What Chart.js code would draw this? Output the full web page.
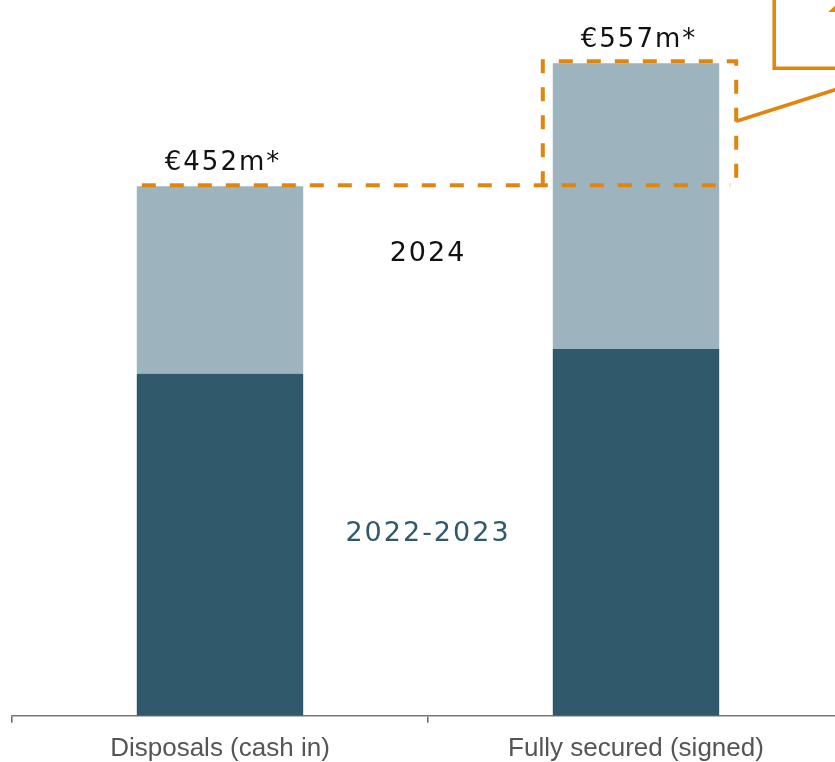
<!DOCTYPE html>
<html>
<head>
<meta charset="utf-8">
<script src="https://cdn.jsdelivr.net/npm/chart.js@4.4.0/dist/chart.umd.min.js"></script>
<style>
  html, body { margin: 0; padding: 0; overflow: hidden; background: #fff; }
  #wrap { width: 835px; height: 762px; overflow: hidden; }
</style>
</head>
<body>
<div id="wrap"><canvas id="chart" width="1260" height="776"></canvas></div>
<script>
// categories (third one is cut off in the picture)
const categories = ['Disposals (cash in)', 'Fully secured (signed)', ''];
const seriesNames = ['2022-2023', '2024'];
const values2022 = [292, 313, null];
const values2024 = [160, 244, null];
const totalLabels = ['€452m*', '€557m*', ''];

const dark = '#305a6b';
const light = '#9db3bd';
const orange = '#e0860f';

// totals, labels and the orange call-out boxes
const overlay = {
  id: 'overlay',
  afterDatasetsDraw(chart) {
    const c = chart.ctx;
    const y = chart.scales.y;
    const x = chart.scales.x;
    const top = chart.getDatasetMeta(1).data;

    c.save();
    c.font = '26px "DejaVu Sans"';
    c.letterSpacing = '2px';
    c.fillStyle = '#111';
    c.textAlign = 'center';
    c.textBaseline = 'middle';
    top.forEach((bar, i) => {
      if (!totalLabels[i]) return;
      c.fillText(totalLabels[i], bar.x + 3, bar.y - 23);
    });

    // series names between the bars
    c.font = '27px "DejaVu Sans"';
    c.letterSpacing = '2px';
    const mid = x.getPixelForValue(0.5);
    c.fillStyle = '#111';
    c.fillText(seriesNames[1], mid, y.getPixelForValue(394));
    c.fillStyle = dark;
    c.fillText(seriesNames[0], mid, y.getPixelForValue(155));

    // dashed line at first total, dashed box round the second bar's increase
    const b1 = top[0], b2 = top[1];
    const half = b1.width / 2;
    const lvl = y.getPixelForValue(values2022[0] + values2024[0]) - 1;
    const boxL = b2.x - half - 10, boxR = b2.x + half + 17, boxT = b2.y - 2;
    c.strokeStyle = orange;
    c.lineWidth = 4;
    c.setLineDash([14, 14]);
    c.beginPath();
    c.moveTo(b1.x - half + 5, lvl);
    c.lineTo(boxR - 6, lvl);
    c.stroke();
    c.beginPath();
    c.moveTo(boxL, lvl);
    c.lineTo(boxL, boxT);
    c.lineTo(boxR, boxT);
    c.lineTo(boxR, lvl);
    c.stroke();

    // solid call-out line and box heading off to the right
    c.setLineDash([]);
    c.lineWidth = 3.5;
    const midBox = (boxT + lvl) / 2;
    c.beginPath();
    c.moveTo(boxR, midBox - 2);
    c.lineTo(boxR + 110, midBox - 37);
    c.stroke();
    c.beginPath();
    c.moveTo(boxR + 38, -5);
    c.lineTo(boxR + 38, boxT + 7);
    c.lineTo(boxR + 130, boxT + 7);
    c.stroke();
    c.fillStyle = orange;
    c.beginPath();
    c.moveTo(boxR + 92, 12);
    c.lineTo(boxR + 102, 3);
    c.lineTo(boxR + 102, 12);
    c.closePath();
    c.fill();
    c.restore();
  }
};

new Chart(document.getElementById('chart'), {
  type: 'bar',
  data: {
    labels: categories,
    datasets: [
      { label: seriesNames[0], data: values2022, backgroundColor: dark },
      { label: seriesNames[1], data: values2024, backgroundColor: light }
    ]
  },
  options: {
    responsive: false,
    animation: false,
    layout: { padding: { left: 12, top: 0, right: 0, bottom: 2 } },
    datasets: { bar: { categoryPercentage: 0.8, barPercentage: 0.5 } },
    plugins: { legend: { display: false }, tooltip: { enabled: false } },
    scales: {
      x: {
        stacked: true,
        border: { color: '#777', width: 1.5 },
        grid: { drawOnChartArea: false, drawTicks: true, tickLength: 7, color: '#666', lineWidth: 1.5, offset: true },
        ticks: { color: '#555', font: { family: 'Liberation Sans', size: 26 }, padding: 10 }
      },
      y: {
        stacked: true,
        display: false,
        min: 0,
        max: 611
      }
    }
  },
  plugins: [overlay]
});
</script>
</body>
</html>
